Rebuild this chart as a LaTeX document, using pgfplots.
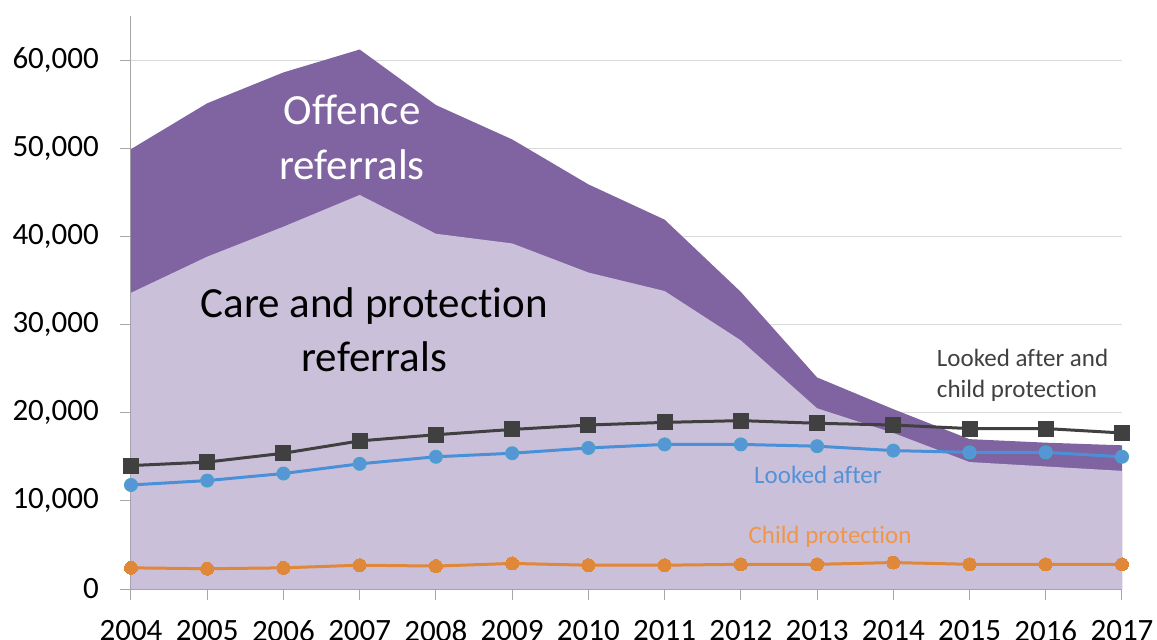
\documentclass[border=0pt]{standalone}
\usepackage{pgfplots}
\pgfplotsset{compat=1.18}
\usepackage{fontspec}
\setmainfont{Carlito}[Ligatures={NoCommon}]
\definecolor{offence}{RGB}{128,100,162}
\definecolor{care}{RGB}{203,192,218}
\definecolor{axisgray}{RGB}{166,166,166}
\definecolor{gridgray}{RGB}{217,217,217}
\definecolor{lineblack}{RGB}{64,64,64}
\definecolor{lineblue}{RGB}{74,144,217}
\definecolor{markblue}{RGB}{86,150,214}
\definecolor{edgeblue}{RGB}{70,165,200}
\definecolor{lineorange}{RGB}{224,136,58}
\definecolor{textorange}{RGB}{240,150,74}
\definecolor{textblue}{RGB}{84,146,216}
\begin{document}
\begin{tikzpicture}
\begin{axis}[
  at={(0,0)}, anchor=south west,
  scale only axis, width=991pt, height=573pt,
  xmin=2004, xmax=2017, ymin=0, ymax=65000,
  axis x line=bottom, axis y line=left,
  axis line style={draw=axisgray, line width=1pt, -},
  xtick={2004,2005,...,2017}, ytick={0,10000,...,60000},
  tick align=outside, major tick length=11pt,
  tick style={draw=axisgray, line width=1pt},
  ymajorgrids, grid style={draw=gridgray, line width=1pt},
  /pgf/number format/assume math mode=true,
  scaled y ticks=false,
  x tick label style={/pgf/number format/1000 sep={}, font=\fontsize{31}{37}\selectfont, anchor=north, inner sep=0pt, yshift=-20pt},
  y tick label style={/pgf/number format/1000 sep={,}, font=\fontsize{31}{37}\selectfont, anchor=east, inner sep=0pt, xshift=-21pt},
]
% total referrals (upper boundary)
\addplot[fill=offence, draw=none] coordinates {
(2004,49900) (2005,55100) (2006,58600) (2007,61200) (2008,54900) (2009,51000) (2010,45900)
(2011,41900) (2012,33700) (2013,24000) (2014,20400) (2015,17000) (2016,16600) (2017,16300)
} \closedcycle;
% care and protection referrals
\addplot[fill=care, draw=none] coordinates {
(2004,33600) (2005,37700) (2006,41100) (2007,44700) (2008,40300) (2009,39200) (2010,35900)
(2011,33800) (2012,28200) (2013,20500) (2014,17700) (2015,14400) (2016,13900) (2017,13400)
} \closedcycle;
% child protection
\addplot[color=lineorange, line width=3pt, mark=*, mark size=6.5pt, mark options={fill=lineorange, draw=lineorange, line width=0pt}] coordinates {
(2004,2400) (2005,2300) (2006,2400) (2007,2700) (2008,2600) (2009,2900) (2010,2700)
(2011,2700) (2012,2800) (2013,2800) (2014,3000) (2015,2800) (2016,2800) (2017,2800)
};
% looked after
\addplot[color=lineblue, line width=3pt, mark=*, mark size=6.5pt, mark options={fill=markblue, draw=edgeblue, line width=1pt}] coordinates {
(2004,11800) (2005,12300) (2006,13100) (2007,14200) (2008,15000) (2009,15400) (2010,16000)
(2011,16400) (2012,16400) (2013,16200) (2014,15700) (2015,15500) (2016,15500) (2017,15000)
};
% looked after and child protection
\addplot[color=lineblack, line width=3pt, mark=square*, mark size=7.5pt, mark options={fill=lineblack, draw=lineblack, line width=0pt}] coordinates {
(2004,14000) (2005,14400) (2006,15400) (2007,16800) (2008,17500) (2009,18100) (2010,18600)
(2011,18900) (2012,19100) (2013,18800) (2014,18600) (2015,18200) (2016,18200) (2017,17700)
};
\node[text=white, align=center, font=\fontsize{43}{55}\selectfont] at (axis cs:2006.9,51265) {Offence\\referrals};
\node[text=black, align=center, font=\fontsize{43}{54}\selectfont] at (axis cs:2007.19,29375) {Care and protection\\referrals};
\node[text=lineblack, align=left, anchor=west, inner sep=0pt, font=\fontsize{25}{31}\selectfont] at (axis cs:2014.57,24215) {Looked after and\\child protection};
\node[text=textblue, font=\fontsize{25}{31}\selectfont] at (axis cs:2013.01,12930) {Looked after};
\node[text=textorange, font=\fontsize{25}{31}\selectfont] at (axis cs:2013.17,5900) {Child protection};
\end{axis}
\pgfresetboundingbox
\path[use as bounding box] (-131pt,-51pt) rectangle (1026pt,589pt);
\end{tikzpicture}
\end{document}
